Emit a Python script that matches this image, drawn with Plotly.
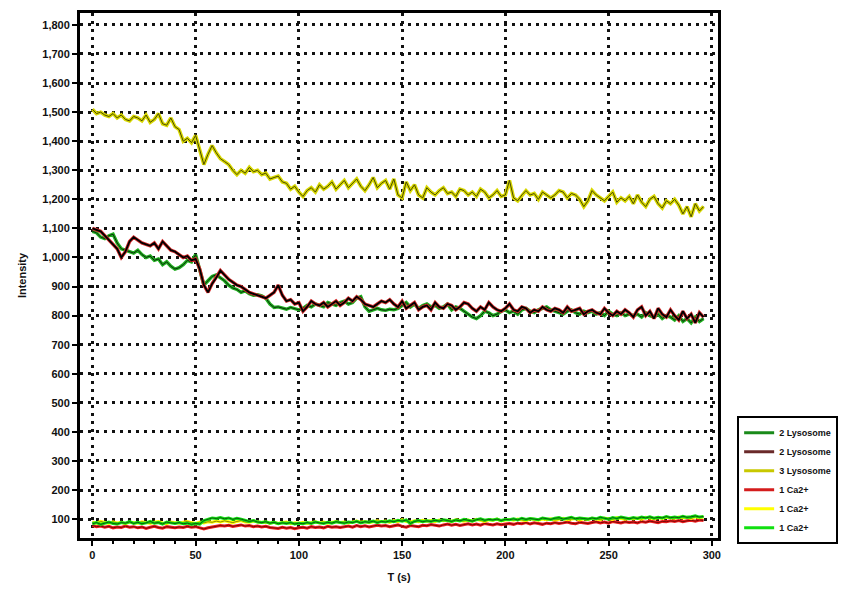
import numpy as np
import plotly.graph_objects as go

# sampling times (s)
t = np.arange(0, 297, 2)

lys_green = [1090,1085,1070,1065,1075,1080,1050,1030,1025,1020,1015,
    1025,1010,1000,1005,990,995,975,985,970,960,
    965,975,990,985,1010,960,905,920,935,940,
    930,920,905,895,890,880,885,875,870,872,
    868,860,840,828,830,825,822,828,825,820,
    825,835,830,840,835,830,845,840,835,845,
    850,840,845,860,865,830,815,820,825,820,
    818,822,820,825,835,845,830,840,825,835,
    840,830,835,825,830,840,820,830,825,815,
    805,795,790,800,815,810,800,805,815,820,
    810,815,805,820,825,815,810,820,825,830,
    820,815,810,805,815,820,810,805,815,810,
    815,805,810,800,815,805,800,810,800,805,
    800,805,795,810,800,795,805,790,800,795,
    785,800,780,790,775,795,780,790]

lys_black = [1100,1095,1090,1075,1060,1045,1030,1000,1020,1055,1070,
    1060,1050,1045,1040,1050,1030,1055,1040,1025,1020,
    1010,1000,1005,990,995,960,905,880,910,930,
    955,940,925,915,905,900,890,880,875,870,
    865,860,870,880,905,870,850,855,840,845,
    815,830,850,840,835,845,830,840,850,835,
    845,860,850,865,855,840,835,830,840,850,
    845,855,840,830,850,825,835,845,820,830,
    835,820,845,830,825,840,835,820,830,845,
    840,825,815,830,820,845,830,820,815,825,
    840,820,815,830,825,810,820,815,830,820,
    815,825,820,810,830,815,820,825,805,815,
    820,810,805,825,810,800,815,805,820,810,
    795,820,830,800,815,790,825,805,795,820,
    800,785,815,790,805,775,810,795]

lys_yellow = [1510,1495,1500,1490,1485,1495,1480,1490,1475,1470,1485,
    1480,1470,1490,1465,1475,1495,1460,1455,1480,1450,
    1440,1400,1410,1395,1420,1370,1320,1355,1385,1360,
    1340,1330,1320,1300,1285,1300,1290,1310,1295,1300,
    1285,1290,1270,1275,1280,1260,1255,1235,1245,1225,
    1210,1230,1240,1225,1250,1235,1245,1260,1235,1250,
    1265,1240,1255,1270,1245,1230,1250,1275,1240,1255,
    1265,1235,1270,1215,1205,1260,1230,1250,1215,1205,
    1240,1225,1215,1230,1240,1220,1225,1210,1235,1230,
    1215,1225,1210,1235,1225,1205,1215,1230,1210,1215,
    1265,1205,1195,1215,1230,1215,1220,1200,1225,1215,
    1205,1215,1230,1225,1205,1220,1215,1200,1175,1195,
    1230,1215,1205,1195,1210,1225,1190,1205,1195,1210,
    1185,1215,1190,1175,1200,1210,1185,1170,1195,1185,
    1200,1180,1150,1175,1140,1185,1160,1175]

ca_red = [78,74,76,72,75,70,73,71,76,72,74,
    70,73,68,72,75,71,69,74,72,70,
    73,71,75,72,74,70,66,70,73,75,
    78,76,79,75,77,80,76,78,74,76,
    73,75,71,70,68,72,69,71,67,70,
    72,69,74,71,73,70,75,72,74,71,
    73,76,72,78,74,77,73,75,79,76,
    78,74,77,80,75,72,78,76,74,79,
    77,81,78,76,80,83,79,82,78,81,
    84,80,83,79,85,82,80,84,81,83,
    85,82,86,84,88,83,87,85,82,86,
    84,88,85,87,90,86,84,89,87,85,
    88,91,87,90,86,92,89,87,91,88,
    90,87,92,89,93,90,88,92,91,94,
    92,95,91,94,96,93,97,95]

ca_yellow = [90,86,92,88,85,91,87,89,84,90,88,
    86,91,88,85,89,92,87,84,90,88,
    86,89,92,88,85,90,87,91,89,93,
    90,94,91,88,92,95,90,89,93,91,
    88,90,86,89,85,88,90,84,87,86,
    89,85,88,91,87,90,86,89,92,88,
    90,87,91,93,89,92,88,90,94,91,
    93,89,95,91,98,92,90,94,91,96,
    93,95,91,97,94,96,92,98,95,93,
    97,94,99,95,92,98,96,100,94,97,
    99,96,100,97,95,101,98,96,100,98,
    101,97,99,103,98,100,102,97,101,99,
    103,100,98,104,101,99,105,102,100,103,
    101,104,100,106,103,101,105,102,106,104,
    103,107,104,106,102,108,105,107]

ca_green = [84,88,82,86,90,85,83,88,86,91,85,
    89,84,87,92,86,88,83,90,87,85,
    88,84,86,82,85,83,95,100,104,102,
    105,101,104,99,103,100,96,92,95,90,
    88,91,86,89,84,87,85,88,83,86,
    84,88,85,90,87,85,89,86,91,88,
    86,90,88,92,87,91,89,93,88,92,
    90,94,91,96,93,97,85,92,95,91,
    94,92,96,93,98,95,92,97,94,99,
    96,93,98,101,96,99,97,100,95,99,
    98,101,97,103,99,102,100,98,104,101,
    99,103,105,100,102,106,101,104,102,100,
    104,101,106,103,100,105,102,107,103,101,
    105,102,107,104,108,103,106,104,109,105,
    107,105,110,106,108,111,107,109]

x_ticks = [0, 50, 100, 150, 200, 250, 300]
y_ticks = list(range(100, 1900, 100))

# name, values, halo colour, core colour, halo width, core width
series = [
    ("2 Lysosome", lys_green, "#1fae1f", "#0b2a0b", 3.4, 1.0),
    ("2 Lysosome", lys_black, "#d42a2a", "#000000", 3.4, 1.8),
    ("3 Lysosome", lys_yellow, "#d8d800", "#4a4a00", 3.6, 1.0),
    ("1 Ca2+", ca_red, "#ee1c1c", "#5a0000", 3.0, 0.8),
    ("1 Ca2+", ca_yellow, "#ffff00", "#6a6a00", 3.0, 0.8),
    ("1 Ca2+", ca_green, "#10e010", "#0a3a0a", 3.0, 0.8),
]
legend_colors = ["#1a8a1a", "#6a2a2a", "#c8c800", "#d41c1c", "#ffff00", "#10e010"]

fig = go.Figure()
# draw the flat calcium traces first, then the lysosome traces on top
draw_order = [3, 4, 5, 0, 1, 2]
for i in draw_order:
    name, vals, halo, core, hw, cw = series[i]
    fig.add_trace(go.Scatter(x=t, y=vals, mode="lines", showlegend=False,
                             line=dict(color=halo, width=hw), hoverinfo="skip"))
    fig.add_trace(go.Scatter(x=t, y=vals, mode="lines", showlegend=False,
                             line=dict(color=core, width=cw), name=name))

# legend entries
for i, (name, vals, halo, core, hw, cw) in enumerate(series):
    fig.add_trace(go.Scatter(x=[None], y=[None], mode="lines", name=name,
                             line=dict(color=legend_colors[i], width=3)))

axis_font = dict(family="Arial, Liberation Sans, sans-serif", size=11,
                 color="#111", weight="bold")

fig.update_layout(
    width=846, height=592,
    margin=dict(l=80, r=128, t=13, b=54, autoexpand=False),
    plot_bgcolor="white", paper_bgcolor="white",
    font=axis_font,
    showlegend=True,
    legend=dict(x=1.03, y=0.232, xanchor="left", yanchor="top",
                bgcolor="white", bordercolor="black", borderwidth=2,
                font=dict(family="Arial, Liberation Sans, sans-serif", size=9,
                          color="#111", weight="bold"),
                tracegroupgap=0, itemwidth=30),
)
fig.update_xaxes(
    range=[-6, 303], tickvals=x_ticks, ticktext=[str(v) for v in x_ticks],
    tickfont=axis_font,
    showline=True, linecolor="black", linewidth=3, mirror=True,
    ticks="outside", ticklen=5, tickwidth=2, tickcolor="black",
    minor=dict(dtick=10, ticks="outside", ticklen=3, tickcolor="black", showgrid=False),
    showgrid=True, gridcolor="#111", gridwidth=2.5, griddash="3px,5px",
    zeroline=False, automargin=False,
    title=dict(text="T (s)", font=axis_font, standoff=14),
)
fig.update_yaxes(
    range=[35, 1841], tickvals=y_ticks, tickformat=",",
    tickfont=axis_font,
    showline=True, linecolor="black", linewidth=3, mirror=True,
    ticks="outside", ticklen=5, tickwidth=2, tickcolor="black",
    showgrid=True, gridcolor="#111", gridwidth=2.5, griddash="3px,5px",
    zeroline=False, automargin=False,
    title=dict(text="Intensity", font=axis_font, standoff=14),
)

fig.write_html("out.html")
